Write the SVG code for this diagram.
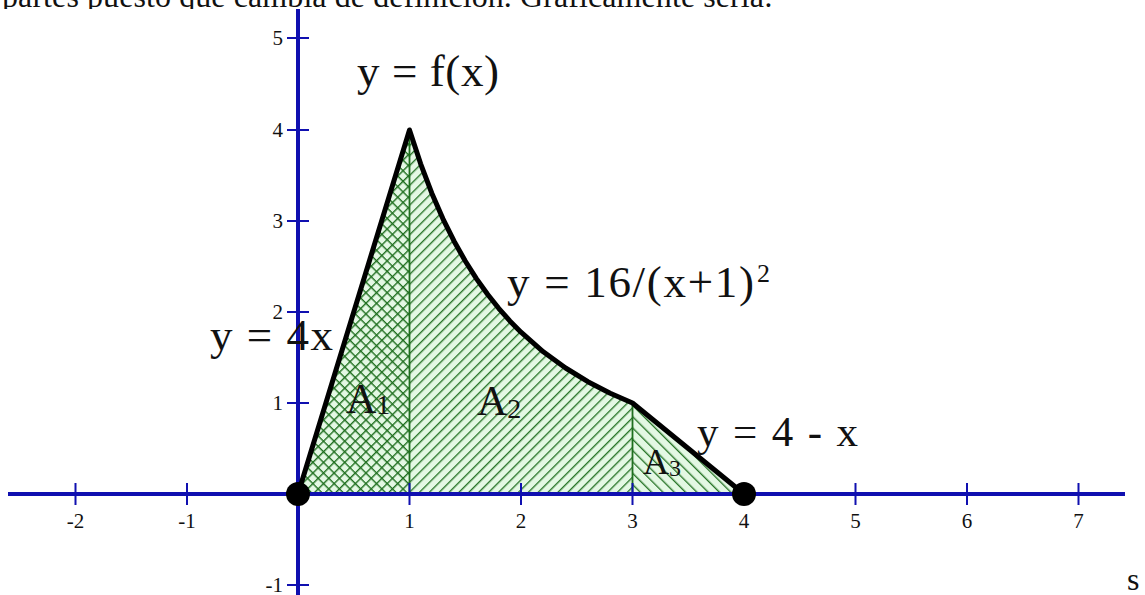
<svg xmlns="http://www.w3.org/2000/svg" width="1145" height="595" viewBox="0 0 1145 595">
<style>
.axis{stroke:#1010b0;stroke-width:4;fill:none}
.tick{stroke:#1010b0;stroke-width:2;fill:none}
.tl{font-family:"Liberation Serif","Times New Roman",serif;font-size:21px;fill:#111}
.lbl{font-family:"Liberation Serif","Times New Roman",serif;fill:#111}
.curve{stroke:#000;stroke-width:5;fill:none;stroke-linejoin:round;stroke-linecap:round}
.sep{stroke:#1f6f1f;stroke-width:1.8}
</style>
<defs>
<pattern id="cross" width="7.5" height="7.5" patternUnits="userSpaceOnUse" patternTransform="rotate(45)">
<rect width="7.5" height="7.5" fill="#e4f8e4"/>
<line x1="0.7" y1="0" x2="0.7" y2="7.5" stroke="#1f6f1f" stroke-width="1.4"/>
<line x1="0" y1="0.7" x2="7.5" y2="0.7" stroke="#1f6f1f" stroke-width="1.4"/>
</pattern>
<pattern id="fwd" width="7" height="7" patternUnits="userSpaceOnUse" patternTransform="rotate(45)">
<rect width="7" height="7" fill="#e4f8e4"/>
<line x1="0.7" y1="0" x2="0.7" y2="7" stroke="#1f6f1f" stroke-width="1.3"/>
</pattern>
<pattern id="back" width="8" height="8" patternUnits="userSpaceOnUse" patternTransform="rotate(-45)">
<rect width="8" height="8" fill="#e4f8e4"/>
<line x1="0.7" y1="0" x2="0.7" y2="8" stroke="#1f6f1f" stroke-width="1.3"/>
</pattern>
</defs>
<rect width="1145" height="595" fill="#fff"/>
<text class="lbl" x="2" y="7" font-size="32" textLength="771">partes puesto que cambia de definición. Gráficamente sería:</text>
<rect x="0" y="9" width="1125" height="586" fill="#fff"/>

<g id="regions">
<polygon id="A1-region" points="298,494 409.5,130 409.5,494" fill="url(#cross)"/>
<polygon id="A2-region" points="409.5,494 409.5,130 420.65,163.8 431.8,193.2 442.95,218.8 454.1,241.2 465.25,261 476.4,278.6 487.55,294.3 498.7,308.3 509.85,320.9 521,332.2 543.3,351.8 565.6,368 587.9,381.7 610.2,393.2 632.5,403 632.5,494" fill="url(#fwd)"/>
<polygon id="A3-region" points="632.5,494 632.5,403 744,494" fill="url(#back)"/>
<line class="sep" x1="409.5" y1="130" x2="409.5" y2="494"/>
<line class="sep" x1="632.5" y1="403" x2="632.5" y2="494"/>
</g>

<g id="axes">
<line class="axis" x1="8" y1="494" x2="1125" y2="494"/>
<line class="axis" x1="298" y1="9" x2="298" y2="595"/>
<path class="tick" d="M75.5,483V505M187,483V505M409.5,483V505M521,483V505M632.5,483V505M744,483V505M855.5,483V505M967,483V505M1078.5,483V505"/>
<path class="tick" d="M287,38H309M287,130H309M287,221H309M287,312H309M287,403H309M287,585H309"/>
<text class="tl" x="75.5" y="528" text-anchor="middle">-2</text>
<text class="tl" x="187" y="528" text-anchor="middle">-1</text>
<text class="tl" x="409.5" y="528" text-anchor="middle">1</text>
<text class="tl" x="521" y="528" text-anchor="middle">2</text>
<text class="tl" x="632.5" y="528" text-anchor="middle">3</text>
<text class="tl" x="744" y="528" text-anchor="middle">4</text>
<text class="tl" x="855.5" y="528" text-anchor="middle">5</text>
<text class="tl" x="967" y="528" text-anchor="middle">6</text>
<text class="tl" x="1078.5" y="528" text-anchor="middle">7</text>
<text class="tl" x="283" y="45" text-anchor="end">5</text>
<text class="tl" x="283" y="137" text-anchor="end">4</text>
<text class="tl" x="283" y="228" text-anchor="end">3</text>
<text class="tl" x="283" y="319" text-anchor="end">2</text>
<text class="tl" x="283" y="410" text-anchor="end">1</text>
<text class="tl" x="283" y="592" text-anchor="end">-1</text>
</g>

<g id="connectors">
<polyline class="curve" points="298,494 409.5,130 420.65,163.8 431.8,193.2 442.95,218.8 454.1,241.2 465.25,261 476.4,278.6 487.55,294.3 498.7,308.3 509.85,320.9 521,332.2 543.3,351.8 565.6,368 587.9,381.7 610.2,393.2 632.5,403 744,494"/>
</g>

<g id="point-0"><circle cx="298" cy="494" r="12" fill="#000"/></g>
<g id="point-4"><circle cx="744" cy="494" r="12" fill="#000"/></g>

<g id="label-f"><text class="lbl" x="357" y="86" font-size="45" textLength="142">y = f(x)</text></g>
<g id="label-16"><text class="lbl" x="507" y="297" font-size="45" textLength="247">y = 16/(x+1)</text><text class="lbl" x="757" y="282" font-size="26">2</text></g>
<g id="label-4x"><text class="lbl" x="210" y="350" font-size="45" textLength="123">y = 4x</text></g>
<g id="label-4mx"><text class="lbl" x="697" y="446" font-size="43" textLength="161">y = 4 - x</text></g>
<g id="A1"><text class="lbl" x="346" y="413" font-size="42">A<tspan font-size="28" dy="1">1</tspan></text></g>
<g id="A2"><text class="lbl" x="477" y="415" font-size="42">A<tspan font-size="28" dy="3">2</tspan></text></g>
<g id="A3"><text class="lbl" x="643" y="474" font-size="36">A<tspan font-size="24" dy="2">3</tspan></text></g>
<text class="lbl" x="1127" y="590" font-size="32">s</text>
</svg>
